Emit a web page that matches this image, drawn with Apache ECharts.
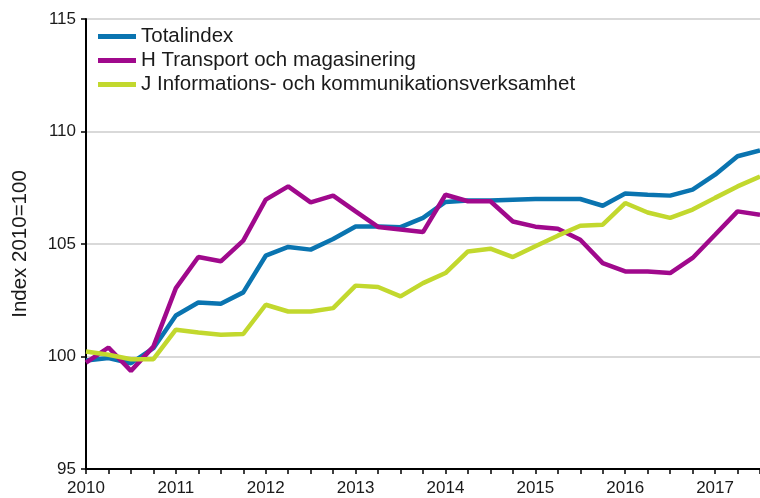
<!DOCTYPE html>
<html>
<head>
<meta charset="utf-8">
<script src="https://cdn.jsdelivr.net/npm/echarts@6/dist/echarts.min.js"></script>
<style>
  html, body { margin: 0; padding: 0; background: #fff; }
  #chart { width: 760px; height: 498px; }
</style>
</head>
<body>
<div id="chart"></div>
<script>
// quarters 2010Q1 .. 2017Q3
var quarters = [];
for (var y = 2010; y <= 2017; y++) {
    for (var q = 1; q <= 4; q++) {
        if (y == 2017 && q == 4) break;
        quarters.push(y + 'Q' + q);
    }
}

var totalindex = [99.82, 99.93, 99.7, 100.37, 101.82, 102.4, 102.34, 102.85, 104.48, 104.87,
    104.75, 105.22, 105.78, 105.78, 105.75, 106.16, 106.87, 106.93, 106.93, 106.97,
    107.0, 107.0, 107.0, 106.7, 107.24, 107.19, 107.15, 107.42, 108.08, 108.9, 109.16];

var transport = [99.73, 100.4, 99.36, 100.44, 103.04, 104.42, 104.23, 105.15, 106.97, 107.56,
    106.85, 107.15, 106.45, 105.76, 105.64, 105.53, 107.19, 106.9, 106.9, 106.0,
    105.77, 105.68, 105.19, 104.15, 103.78, 103.78, 103.71, 104.38, 105.41, 106.45, 106.3];

var information = [100.22, 100.08, 99.88, 99.88, 101.19, 101.07, 100.97, 101.0, 102.3, 102.0,
    102.0, 102.15, 103.15, 103.09, 102.67, 103.26, 103.71, 104.67, 104.79, 104.42,
    104.9, 105.37, 105.81, 105.86, 106.82, 106.4, 106.16, 106.53, 107.05, 107.56, 108.0];

var seriesNames = ['Totalindex', 'H Transport och magasinering', 'J Informations- och kommunikationsverksamhet'];
var colors = ['#0a74b0', '#a0098c', '#c2d82e'];

var chartDom = document.getElementById('chart');
var myChart = echarts.init(chartDom);
var font = 'Liberation Sans, Arial, sans-serif';

function line(name, data, color) {
    return {
        name: name,
        type: 'line',
        data: data,
        symbol: 'none',
        smooth: false,
        lineStyle: { color: color, width: 4.5 },
        itemStyle: { color: color }
    };
}

var option = {
    animation: false,
    grid: { left: 86, right: 0, top: 19, bottom: 29 },
    legend: {
        orient: 'vertical',
        left: 93,
        top: 21,
        itemWidth: 38,
        itemHeight: 5,
        itemGap: 3,
        icon: 'rect',
        textStyle: { fontFamily: font, fontSize: 20.5, color: '#1a1a1a' },
        data: seriesNames
    },
    xAxis: {
        type: 'category',
        data: quarters,
        boundaryGap: false,
        axisLine: { lineStyle: { color: '#000', width: 2 } },
        axisTick: { show: true, interval: 0, length: 5, lineStyle: { color: '#000', width: 1.5 } },
        axisLabel: {
            interval: 3,
            margin: 11,
            fontFamily: font,
            fontSize: 17,
            color: '#1a1a1a',
            formatter: function (v) { return v.slice(0, 4); }
        },
        splitLine: { show: false }
    },
    yAxis: {
        type: 'value',
        min: 95,
        max: 115,
        interval: 5,
        name: 'Index 2010=100',
        nameLocation: 'middle',
        nameGap: 55,
        nameTextStyle: { fontFamily: font, fontSize: 20.5, color: '#1a1a1a' },
        axisLine: { show: true, lineStyle: { color: '#000', width: 2 } },
        axisTick: { show: true, length: 5, lineStyle: { color: '#000', width: 1.5 } },
        axisLabel: { fontFamily: font, fontSize: 17, color: '#1a1a1a', margin: 10 },
        splitLine: { show: true, lineStyle: { color: '#cccccc', width: 1.5 } }
    },
    series: [
        line(seriesNames[0], totalindex, colors[0]),
        line(seriesNames[1], transport, colors[1]),
        line(seriesNames[2], information, colors[2])
    ]
};

option && myChart.setOption(option);
</script>
</body>
</html>
